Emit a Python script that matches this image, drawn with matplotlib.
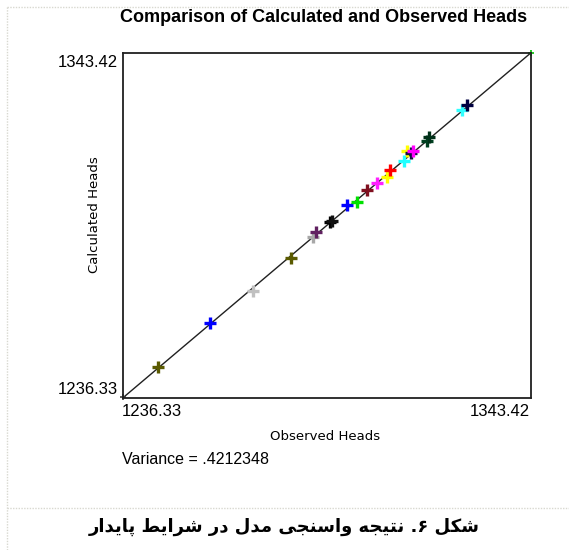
import matplotlib
matplotlib.use("Agg")
import matplotlib.pyplot as plt
from matplotlib.lines import Line2D

# axis range
h_min = 1236.33
h_max = 1343.42

# observed / calculated heads
observed = [1245.67, 1259.25, 1270.45, 1280.43, 1286.36, 1287.07, 1290.87, 1291.20,
            1295.13, 1297.91, 1300.46, 1303.16, 1305.78, 1306.49, 1310.17, 1310.95,
            1311.92, 1312.61, 1316.13, 1316.73, 1325.39, 1326.62]
calculated = [1245.86, 1259.52, 1269.64, 1279.69, 1286.21, 1288.01, 1290.96, 1291.40,
              1296.24, 1297.26, 1300.74, 1303.07, 1304.93, 1306.95, 1309.90, 1313.00,
              1312.38, 1313.00, 1316.10, 1317.35, 1325.73, 1327.28]
colors = ['#5a5a00', '#0000ff', '#c0c0c0', '#5a5a00', '#a8a8a8', '#602060', '#000000',
          '#101010', '#0000ff', '#00e000', '#801020', '#ff20ff', '#ffff00', '#ff0000',
          '#20ffff', '#ffff00', '#101040', '#ff00ff', '#004020', '#003018', '#30ffff',
          '#000040']
# the two tiny end points at the corners
end_obs = [1236.45, 1343.42]
end_calc = [1236.60, 1343.42]
end_colors = ['#404040', '#00c000']

title = "Comparison of Calculated and Observed Heads"
xlabel = "Observed Heads"
ylabel = "Calculated Heads"
variance = "Variance = .4212348"
caption = "شکل ۶. نتیجه واسنجی مدل در شرایط پایدار"

# --- very small arabic/persian shaper (matplotlib does no shaping) ---
forms = {
    'ش': ('\uFEB5', '\uFEB6', '\uFEB7', '\uFEB8'),
    'ک': ('\uFB8E', '\uFB8F', '\uFB90', '\uFB91'),
    'ل': ('\uFEDD', '\uFEDE', '\uFEDF', '\uFEE0'),
    'ن': ('\uFEE5', '\uFEE6', '\uFEE7', '\uFEE8'),
    'ت': ('\uFE95', '\uFE96', '\uFE97', '\uFE98'),
    'ی': ('\uFBFC', '\uFBFD', '\uFBFE', '\uFBFF'),
    'ج': ('\uFE9D', '\uFE9E', '\uFE9F', '\uFEA0'),
    'ه': ('\uFEE9', '\uFEEA', '\uFEEB', '\uFEEC'),
    'س': ('\uFEB1', '\uFEB2', '\uFEB3', '\uFEB4'),
    'م': ('\uFEE1', '\uFEE2', '\uFEE3', '\uFEE4'),
    'ط': ('\uFEC1', '\uFEC2', '\uFEC3', '\uFEC4'),
    'پ': ('\uFB56', '\uFB57', '\uFB58', '\uFB59'),
    'و': ('\uFEED', '\uFEEE', None, None),
    'ا': ('\uFE8D', '\uFE8E', None, None),
    'د': ('\uFEA9', '\uFEAA', None, None),
    'ر': ('\uFEAD', '\uFEAE', None, None),
}


def shape(text):
    out = []
    for i, ch in enumerate(text):
        if ch not in forms:
            out.append(ch)
            continue
        prev = i > 0 and text[i - 1] in forms and forms[text[i - 1]][2] is not None
        nxt = (forms[ch][2] is not None and i + 1 < len(text) and text[i + 1] in forms)
        iso, fin, ini, med = forms[ch]
        if prev and nxt:
            out.append(med)
        elif prev:
            out.append(fin)
        elif nxt:
            out.append(ini)
        else:
            out.append(iso)
    return ''.join(out)[::-1]


fig = plt.figure(figsize=(5.69, 5.50), dpi=100)
fig.patch.set_facecolor('white')

ax = fig.add_axes([122.7 / 569, 152 / 550, 408 / 569, 345 / 550])
ax.set_xlim(h_min, h_max)
ax.set_ylim(h_min, h_max)
ax.plot([h_min, h_max], [h_min, h_max], color='#202020', lw=1.0, zorder=1)
for x, y, c in zip(observed, calculated, colors):
    ax.plot(x, y, marker='+', ms=9, mew=2.4, color=c, zorder=2)
for x, y, c in zip(end_obs, end_calc, end_colors):
    ax.plot(x, y, marker='+', ms=5, mew=1.2, color=c, zorder=2, clip_on=False)
ax.set_xticks([])
ax.set_yticks([])
for s in ax.spines.values():
    s.set_linewidth(1.3)
    s.set_color('#202020')

f = 'Liberation Sans'
fig.text(324 / 569, 1 - 18 / 550, title, ha='center', va='center',
         fontsize=13, fontweight='bold', family=f)
fig.text(118 / 569, 1 - 62 / 550, "1343.42", ha='right', va='center', fontsize=12, family=f)
fig.text(118 / 569, 1 - 390 / 550, "1236.33", ha='right', va='center', fontsize=12, family=f)
fig.text(122 / 569, 1 - 411 / 550, "1236.33", ha='left', va='center', fontsize=12, family=f)
fig.text(530 / 569, 1 - 411 / 550, "1343.42", ha='right', va='center', fontsize=12, family=f)
fig.text(325 / 569, 1 - 437 / 550, xlabel, ha='center', va='center', fontsize=9.5,
         family='DejaVu Sans')
fig.text(95 / 569, 1 - 215 / 550, ylabel, ha='center', va='center', rotation=90,
         fontsize=9.5, family='DejaVu Sans')
fig.text(122 / 569, 1 - 460 / 550, variance, ha='left', va='center', fontsize=11.5, family=f)

# dotted frame of the original screenshot
dot = dict(color='#d8d8d0', lw=1.0, ls=(0, (1, 1)))
fig.add_artist(Line2D([7 / 569, 7 / 569], [0, 1 - 7 / 550], transform=fig.transFigure, **dot))
fig.add_artist(Line2D([7 / 569, 1], [1 - 7 / 550, 1 - 7 / 550], transform=fig.transFigure, **dot))
fig.add_artist(Line2D([7 / 569, 1], [1 - 508 / 550, 1 - 508 / 550], transform=fig.transFigure, **dot))

fig.text(284 / 569, 1 - 527 / 550, shape(caption), ha='center', va='center',
         fontsize=13, fontweight='bold', family=['DejaVu Sans'])

fig.savefig('out.png', dpi=100)
